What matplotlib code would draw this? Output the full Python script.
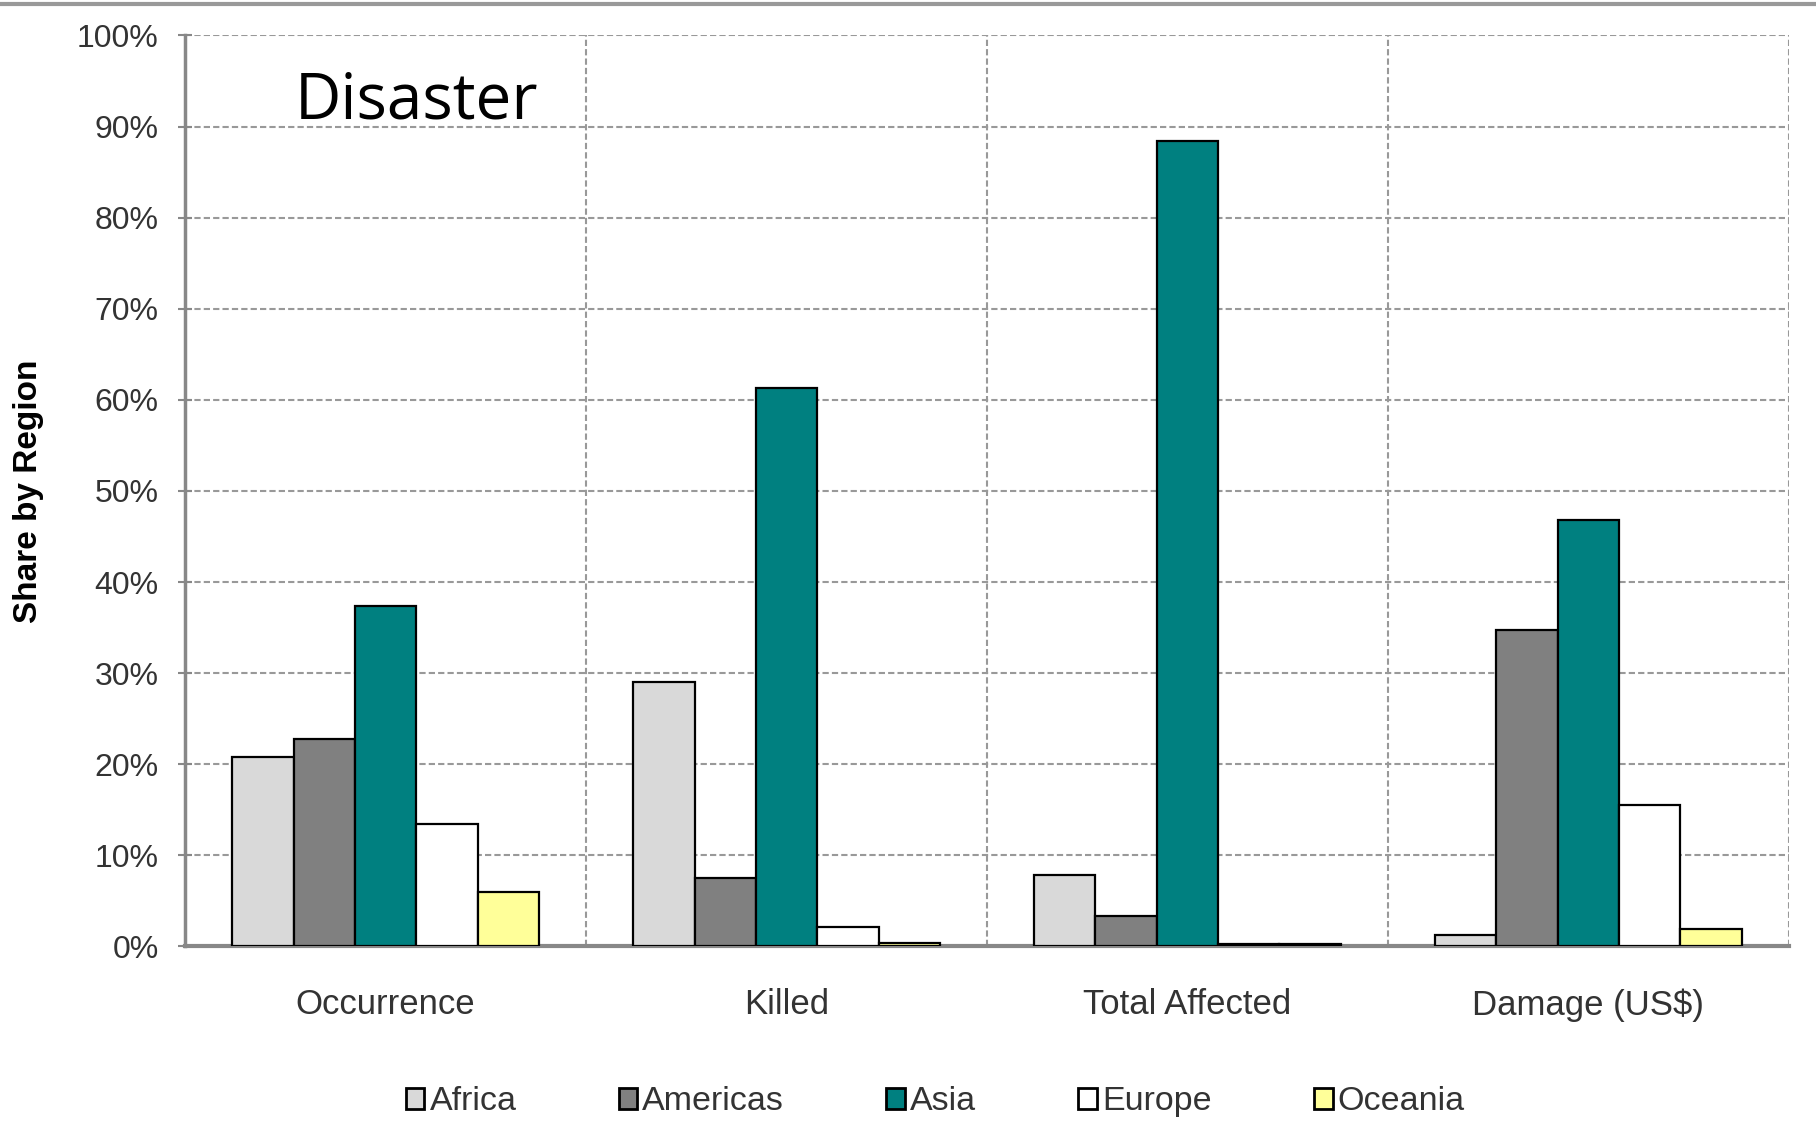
import numpy as np
import matplotlib.pyplot as plt
from matplotlib.lines import Line2D
from matplotlib.ticker import FixedLocator, PercentFormatter

# Data (share by region, %)
categories = ['Occurrence', 'Killed', 'Total Affected', 'Damage (US$)']
regions = ['Africa', 'Americas', 'Asia', 'Europe', 'Oceania']
africa = [20.8, 29.0, 7.8, 1.3]
americas = [22.8, 7.5, 3.3, 34.7]
asia = [37.4, 61.3, 88.4, 46.8]
europe = [13.4, 2.1, 0.3, 15.5]
oceania = [6.0, 0.4, 0.3, 1.9]
colors = ['#D9D9D9', '#808080', '#008080', '#FFFFFF', '#FFFF99']

series = [africa, americas, asia, europe, oceania]

plt.rcParams['font.family'] = ['Liberation Sans', 'DejaVu Sans']

fig = plt.figure(figsize=(18.16, 11.43), dpi=100)
ax = fig.add_axes([0.102, 0.172, 0.883, 0.797])

x = np.arange(len(categories))
width = 0.153
for i, (name, vals) in enumerate(zip(regions, series)):
    ax.bar(x + (i - 2) * width, vals, width, color=colors[i], edgecolor='black',
           linewidth=1.6, label=name, zorder=3)

ax.set_xlim(-0.5, 3.5)
ax.set_ylim(0, 100)
ax.set_yticks(np.arange(0, 101, 10))
ax.yaxis.set_major_formatter(PercentFormatter(decimals=0))
ax.set_xticks(x)
ax.set_xticklabels(categories)
ax.xaxis.set_minor_locator(FixedLocator([0.5, 1.5, 2.5, 3.5]))

ax.grid(axis='y', which='major', linestyle=(0, (3, 1.5)), color='#999999', linewidth=1.5, zorder=0)
ax.grid(axis='x', which='minor', linestyle=(0, (3, 1.5)), color='#999999', linewidth=1.5, zorder=0)
ax.grid(axis='x', which='major', visible=False)

for side in ['top', 'right']:
    ax.spines[side].set_visible(False)
ax.spines['left'].set_color('#888888')
ax.spines['left'].set_linewidth(2.5)
ax.spines['bottom'].set_color('#888888')
ax.spines['bottom'].set_linewidth(3)

ax.tick_params(axis='y', direction='inout', labelsize=23, length=10, color='#888888',
               width=1.5, pad=14, labelcolor='#333333')
ax.tick_params(axis='x', which='major', labelsize=25, length=0, pad=30, labelcolor='#333333')
ax.tick_params(axis='x', which='minor', length=0)

ax.set_ylabel('Share by Region', fontsize=24, fontweight='bold')
ax.yaxis.set_label_coords(-0.088, 0.5)

ax.text(0.068, 0.928, 'Disaster', transform=ax.transAxes, fontsize=46,
        family=['Open Sans', 'DejaVu Sans'], va='center', ha='left', color='black')

leg = fig.legend(loc='center', bbox_to_anchor=(0.515, 0.036), ncol=5, frameon=False,
                 fontsize=24.5, handlelength=0.55, handleheight=0.6, handletextpad=0.15,
                 columnspacing=3.0, labelcolor='#333333')
for h in leg.legend_handles:
    h.set_linewidth(2)

# thin gray border line at top of the slide
fig.add_artist(Line2D([0, 1], [0.9965, 0.9965], color='#999999', linewidth=3,
                      transform=fig.transFigure))

fig.savefig('out.png', dpi=100)
